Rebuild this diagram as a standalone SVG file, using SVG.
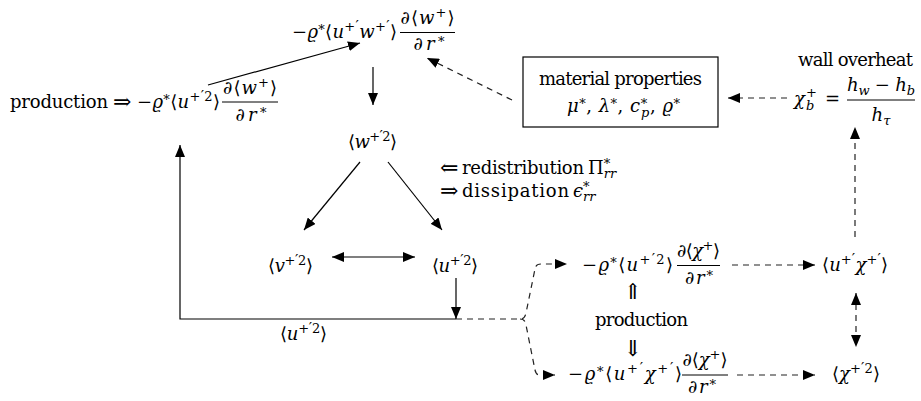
<svg xmlns="http://www.w3.org/2000/svg" width="921" height="401" viewBox="0 0 921 401">
<style>
.t{font-family:"DejaVu Serif","Noto Serif","DejaVu Sans",serif;font-size:18px;fill:#000}
.i{font-style:italic}
.s{font-size:13px}
.p{font-size:15px}
.ar{font-size:22px}
.m{text-anchor:middle}
.ln{fill:none;stroke:#000;stroke-width:1.2}
.bar{stroke:#000;stroke-width:1}
.d{stroke-dasharray:6 5;stroke:#222}
.a{marker-end:url(#ah)}
.b{marker-start:url(#ah);marker-end:url(#ah)}
.box{fill:#fff;stroke:#000;stroke-width:1.2}
</style>
<defs>
<marker id="ah" viewBox="0 0 12 10" refX="12" refY="5" markerWidth="12" markerHeight="10" markerUnits="userSpaceOnUse" orient="auto-start-reverse">
<path d="M0,0 L12,5 L0,10 z" fill="#000"/>
</marker>
</defs>

<g id="connectors">
<line class="ln a" x1="208" y1="85" x2="360" y2="43"/>
<line class="ln a" x1="373" y1="67" x2="373" y2="105"/>
<line class="ln a" x1="360" y1="162" x2="304" y2="230"/>
<line class="ln a" x1="388" y1="162" x2="442" y2="230"/>
<line class="ln b" x1="332" y1="257" x2="415" y2="257"/>
<line class="ln a" x1="456" y1="278" x2="456" y2="319"/>
<path class="ln a" d="M456,319 H180 V145"/>
<path class="ln d a" d="M456,319 H520 C524,319 525,317 526,313 L535,269 C536,265 537,264 541,264 H567"/>
<path class="ln d a" d="M520,319 C524,319 525,321 526,325 L535,370 C536,374 537,375 541,375 H555"/>
<line class="ln d a" x1="732" y1="265" x2="815" y2="265"/>
<line class="ln d a" x1="737" y1="375" x2="815" y2="375"/>
<line class="ln d b" x1="856" y1="293" x2="856" y2="347"/>
<line class="ln d a" x1="855" y1="237" x2="855" y2="127"/>
<line class="ln d a" x1="787" y1="98" x2="728" y2="98"/>
<line class="ln d a" x1="512" y1="100" x2="427" y2="58"/>
</g>

<g id="n-top">
<text class="t" x="292" y="38" textLength="105" lengthAdjust="spacing">−<tspan class="i">ϱ</tspan><tspan class="s" dy="-4">*</tspan><tspan dy="4">⟨</tspan><tspan class="i">u</tspan><tspan class="s" dy="-7">+</tspan><tspan class="p">′</tspan><tspan class="i" dy="7">w</tspan><tspan class="s" dy="-7">+</tspan><tspan class="p">′</tspan><tspan dy="7">⟩</tspan></text>
<text class="t m" x="427.5" y="24" textLength="54" lengthAdjust="spacing">∂⟨<tspan class="i">w</tspan><tspan class="s" dy="-7">+</tspan><tspan dy="7">⟩</tspan></text>
<line class="bar" x1="400" y1="32.5" x2="455" y2="32.5"/>
<text class="t m" x="429" y="50" textLength="31" lengthAdjust="spacing">∂<tspan class="i">r</tspan><tspan class="s" dy="-4">*</tspan></text>
</g>

<g id="n-prod">
<text class="t" x="10" y="108" textLength="98" lengthAdjust="spacing">production</text>
<text class="t ar" x="113" y="109">⇒</text>
<text class="t" x="137" y="108" textLength="83" lengthAdjust="spacing">−<tspan class="i">ϱ</tspan><tspan class="s" dy="-4">*</tspan><tspan dy="4">⟨</tspan><tspan class="i">u</tspan><tspan class="s" dy="-7">+</tspan><tspan class="p">′</tspan><tspan class="s">2</tspan><tspan dy="7">⟩</tspan></text>
<text class="t m" x="250" y="94" textLength="54" lengthAdjust="spacing">∂⟨<tspan class="i">w</tspan><tspan class="s" dy="-7">+</tspan><tspan dy="7">⟩</tspan></text>
<line class="bar" x1="222" y1="102" x2="278" y2="102"/>
<text class="t m" x="251" y="121" textLength="31" lengthAdjust="spacing">∂<tspan class="i">r</tspan><tspan class="s" dy="-4">*</tspan></text>
</g>

<g id="n-material">
<rect class="box" x="523" y="57" width="195" height="70"/>
<text class="t m" x="620.5" y="85" textLength="163" lengthAdjust="spacing">material properties</text>
<text class="t" x="567" y="112" textLength="113" lengthAdjust="spacing"><tspan class="i">μ</tspan><tspan class="s" dy="-4">*</tspan><tspan dy="4">, </tspan><tspan class="i">λ</tspan><tspan class="s" dy="-4">*</tspan><tspan dy="4">, </tspan><tspan class="i">c</tspan><tspan class="s" dy="-4">*</tspan><tspan class="s i" dx="-6.5" dy="9">p</tspan><tspan dy="-5">, </tspan><tspan class="i">ϱ</tspan><tspan class="s" dy="-4">*</tspan></text>
</g>

<g id="n-overheat">
<text class="t" x="798" y="66" textLength="115" lengthAdjust="spacing">wall overheat</text>
<text class="t i" x="794" y="105">χ</text>
<text class="t s" x="806" y="97">+</text>
<text class="t s i" x="806" y="110">b</text>
<text class="t" x="825" y="105">=</text>
<text class="t m" x="881" y="91" textLength="68" lengthAdjust="spacing"><tspan class="i">h</tspan><tspan class="s i" dy="4">w</tspan><tspan dy="-4"> − </tspan><tspan class="i">h</tspan><tspan class="s i" dy="4">b</tspan></text>
<line class="bar" x1="847" y1="100" x2="915" y2="100"/>
<text class="t m" x="881" y="121"><tspan class="i">h</tspan><tspan class="s i" dy="4">τ</tspan></text>
</g>

<g id="n-w2">
<text class="t" x="348" y="148" textLength="49" lengthAdjust="spacing">⟨<tspan class="i">w</tspan><tspan class="s" dy="-7">+</tspan><tspan class="p">′</tspan><tspan class="s">2</tspan><tspan dy="7">⟩</tspan></text>
</g>

<g id="n-redist">
<text class="t ar" x="440" y="175">⇐</text>
<text class="t" x="462" y="174" textLength="122" lengthAdjust="spacing">redistribution</text>
<text class="t" x="588" y="174">Π<tspan class="s" dy="-6">*</tspan><tspan class="s i" dx="-6.5" dy="10">rr</tspan></text>
<text class="t ar" x="440" y="198">⇒</text>
<text class="t" x="462" y="197" textLength="107" lengthAdjust="spacing">dissipation</text>
<text class="t" x="573" y="197"><tspan class="i">ϵ</tspan><tspan class="s" dy="-6">*</tspan><tspan class="s i" dx="-6.5" dy="10">rr</tspan></text>
</g>

<g id="n-v2">
<text class="t" x="268" y="272" textLength="45" lengthAdjust="spacing">⟨<tspan class="i">v</tspan><tspan class="s" dy="-7">+</tspan><tspan class="p">′</tspan><tspan class="s">2</tspan><tspan dy="7">⟩</tspan></text>
</g>

<g id="n-u2">
<text class="t" x="432" y="272" textLength="46" lengthAdjust="spacing">⟨<tspan class="i">u</tspan><tspan class="s" dy="-7">+</tspan><tspan class="p">′</tspan><tspan class="s">2</tspan><tspan dy="7">⟩</tspan></text>
</g>

<g id="n-u2-label">
<text class="t" x="280" y="340" textLength="47" lengthAdjust="spacing">⟨<tspan class="i">u</tspan><tspan class="s" dy="-7">+</tspan><tspan class="p">′</tspan><tspan class="s">2</tspan><tspan dy="7">⟩</tspan></text>
</g>

<g id="n-prod-chi-top">
<text class="t" x="582" y="271" textLength="91" lengthAdjust="spacing">−<tspan class="i">ϱ</tspan><tspan class="s" dy="-4">*</tspan><tspan dy="4">⟨</tspan><tspan class="i">u</tspan><tspan class="s" dy="-7">+</tspan><tspan class="p">′</tspan><tspan class="s">2</tspan><tspan dy="7">⟩</tspan></text>
<text class="t m" x="698.5" y="257" textLength="43" lengthAdjust="spacing">∂⟨<tspan class="i">χ</tspan><tspan class="s" dy="-7">+</tspan><tspan dy="7">⟩</tspan></text>
<line class="bar" x1="677" y1="265.5" x2="720" y2="265.5"/>
<text class="t m" x="699" y="284" textLength="28" lengthAdjust="spacing">∂<tspan class="i">r</tspan><tspan class="s" dy="-4">*</tspan></text>
</g>

<g id="n-production">
<text class="t ar m" x="633" y="299">⇑</text>
<text class="t" x="595" y="326" textLength="93" lengthAdjust="spacing">production</text>
<text class="t ar m" x="633" y="356">⇓</text>
</g>

<g id="n-prod-chi-bottom">
<text class="t" x="568" y="380" textLength="114" lengthAdjust="spacing">−<tspan class="i">ϱ</tspan><tspan class="s" dy="-4">*</tspan><tspan dy="4">⟨</tspan><tspan class="i">u</tspan><tspan class="s" dy="-7">+</tspan><tspan class="p">′</tspan><tspan class="i" dy="7">χ</tspan><tspan class="s" dy="-7">+</tspan><tspan class="p">′</tspan><tspan dy="7">⟩</tspan></text>
<text class="t m" x="705" y="366" textLength="45" lengthAdjust="spacing">∂⟨<tspan class="i">χ</tspan><tspan class="s" dy="-7">+</tspan><tspan dy="7">⟩</tspan></text>
<line class="bar" x1="682" y1="375" x2="728" y2="375"/>
<text class="t m" x="702" y="393" textLength="28" lengthAdjust="spacing">∂<tspan class="i">r</tspan><tspan class="s" dy="-4">*</tspan></text>
</g>

<g id="n-uchi">
<text class="t" x="822" y="271" textLength="66" lengthAdjust="spacing">⟨<tspan class="i">u</tspan><tspan class="s" dy="-7">+</tspan><tspan class="p">′</tspan><tspan class="i" dy="7">χ</tspan><tspan class="s" dy="-7">+</tspan><tspan class="p">′</tspan><tspan dy="7">⟩</tspan></text>
</g>

<g id="n-chi2">
<text class="t" x="832" y="380" textLength="48" lengthAdjust="spacing">⟨<tspan class="i">χ</tspan><tspan class="s" dy="-7">+</tspan><tspan class="p">′</tspan><tspan class="s">2</tspan><tspan dy="7">⟩</tspan></text>
</g>
</svg>
